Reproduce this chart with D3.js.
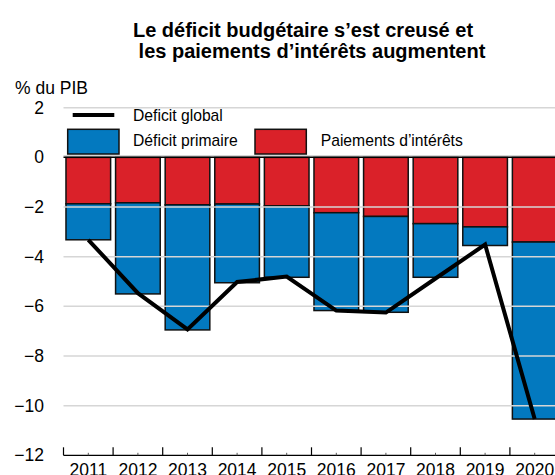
<!DOCTYPE html>
<html>
<head>
<meta charset="utf-8">
<script src="https://cdn.jsdelivr.net/npm/d3@7"></script>
<style>
  body { margin: 0; background: #fff; }
  text { font-family: "Liberation Sans", Arial, sans-serif; fill: #000; }
</style>
</head>
<body>
<div id="chart"></div>
<script>
const years = ["2011", "2012", "2013", "2014", "2015", "2016", "2017", "2018", "2019", "2020"];
const interestPayments = [-1.87, -1.83, -1.91, -1.88, -1.95, -2.23, -2.38, -2.67, -2.80, -3.41];
const primaryDeficit = [-1.45, -3.67, -5.04, -3.17, -2.88, -3.94, -3.86, -2.16, -0.75, -7.13];
const overallDeficit = [-3.32, -5.47, -6.93, -5.02, -4.80, -6.17, -6.25, -4.88, -3.51, -10.54];
const yTicks = [2, 0, -2, -4, -6, -8, -10, -12];

const width = 555;
const height = 475;
const left = 63.5;

const svg = d3.select("#chart")
  .append("svg")
    .attr("width", width)
    .attr("height", height);

const x = d3.scaleBand()
  .domain(years)
  .range([left, left + 49.6 * years.length])
  .paddingInner(0.1)
  .paddingOuter(0.05);

const y = d3.scaleLinear()
  .domain([-12, 2])
  .range([455.3, 107.7]);

// title
svg.append("text")
  .attr("x", 303).attr("y", 36.5)
  .attr("text-anchor", "middle")
  .style("font-size", "20px").style("font-weight", "bold")
  .text("Le déficit budgétaire s’est creusé et");
svg.append("text")
  .attr("x", 312).attr("y", 58)
  .attr("text-anchor", "middle")
  .style("font-size", "20px").style("font-weight", "bold")
  .text("les paiements d’intérêts augmentent");

svg.append("text")
  .attr("x", 15).attr("y", 93.5)
  .style("font-size", "17.5px")
  .text("% du PIB");

// bars: interest payments on top, primary deficit below
const bars = svg.append("g");
years.forEach((yr, i) => {
  bars.append("rect")
    .attr("x", x(yr))
    .attr("width", x.bandwidth())
    .attr("y", y(0))
    .attr("height", y(interestPayments[i]) - y(0))
    .attr("fill", "#DA2129")
    .attr("stroke", "#111")
    .attr("stroke-width", 1.5);
  bars.append("rect")
    .attr("x", x(yr))
    .attr("width", x.bandwidth())
    .attr("y", y(interestPayments[i]))
    .attr("height", y(interestPayments[i] + primaryDeficit[i]) - y(interestPayments[i]))
    .attr("fill", "#0379BF")
    .attr("stroke", "#111")
    .attr("stroke-width", 1.5);
});

// gridlines (drawn over the bars, like the original)
svg.append("g")
  .selectAll("line")
  .data(yTicks.filter(d => d !== -12))
  .enter().append("line")
    .attr("x1", left).attr("x2", width)
    .attr("y1", d => y(d) - (d === 0 ? 1.5 : 0))
    .attr("y2", d => y(d) - (d === 0 ? 1.5 : 0))
    .attr("stroke", "#d6d6d6")
    .attr("stroke-width", 1.5);

// zero line
svg.append("line")
  .attr("x1", left).attr("x2", width)
  .attr("y1", y(0)).attr("y2", y(0))
  .attr("stroke", "#000")
  .attr("stroke-width", 1.5);

// y axis labels
const yAxis = svg.append("g")
  .attr("transform", `translate(${left},0)`)
  .call(d3.axisLeft(y).tickValues(yTicks).tickSize(0).tickPadding(19.5));
yAxis.select(".domain").remove();
yAxis.selectAll("text")
  .style("font-size", "17.5px")
  .style("font-family", "'Liberation Sans', Arial, sans-serif");

// x axis
const xAxis = svg.append("g")
  .attr("transform", `translate(0,${y(-12)})`)
  .call(d3.axisBottom(x).tickSize(0).tickPadding(8.5));
xAxis.select(".domain").remove();
xAxis.selectAll("text")
  .style("font-size", "17.5px")
  .style("font-family", "'Liberation Sans', Arial, sans-serif");

svg.append("line")
  .attr("x1", left).attr("x2", width)
  .attr("y1", y(-12)).attr("y2", y(-12))
  .attr("stroke", "#000").attr("stroke-width", 1.2);

const step = x.step();
svg.append("g").selectAll("line")
  .data(years)
  .enter().append("line")
    .attr("x1", d => x(d) - x.paddingOuter() * step)
    .attr("x2", d => x(d) - x.paddingOuter() * step)
    .attr("y1", y(-12)).attr("y2", y(-12) - 8)
    .attr("stroke", "#000").attr("stroke-width", 1.2);
svg.append("g").selectAll("line")
  .data(years)
  .enter().append("line")
    .attr("x1", d => x(d) + x.bandwidth() / 2)
    .attr("x2", d => x(d) + x.bandwidth() / 2)
    .attr("y1", y(-12)).attr("y2", y(-12) - 2.5)
    .attr("stroke", "#555").attr("stroke-width", 1);

// overall deficit line
const line = d3.line()
  .x((d, i) => x(years[i]) + x.bandwidth() / 2)
  .y(d => y(d));
svg.append("path")
  .datum(overallDeficit)
  .attr("fill", "none")
  .attr("stroke", "#000")
  .attr("stroke-width", 4)
  .attr("stroke-linejoin", "miter")
  .attr("d", line);

// legend
const legend = svg.append("g");
legend.append("line")
  .attr("x1", 72.7).attr("x2", 114.3)
  .attr("y1", 115).attr("y2", 115)
  .attr("stroke", "#000").attr("stroke-width", 4);
legend.append("text")
  .attr("x", 133).attr("y", 121)
  .style("font-size", "15.7px")
  .text("Deficit global");
legend.append("rect")
  .attr("x", 67.7).attr("y", 129.3)
  .attr("width", 51.3).attr("height", 24.7)
  .attr("fill", "#0379BF").attr("stroke", "#111").attr("stroke-width", 1.5);
legend.append("text")
  .attr("x", 133).attr("y", 146)
  .style("font-size", "15.7px")
  .text("Déficit primaire");
legend.append("rect")
  .attr("x", 255).attr("y", 129.3)
  .attr("width", 51.3).attr("height", 24.7)
  .attr("fill", "#DA2129").attr("stroke", "#111").attr("stroke-width", 1.5);
legend.append("text")
  .attr("x", 320.7).attr("y", 146)
  .style("font-size", "15.7px")
  .text("Paiements d’intérêts");
</script>
</body>
</html>
